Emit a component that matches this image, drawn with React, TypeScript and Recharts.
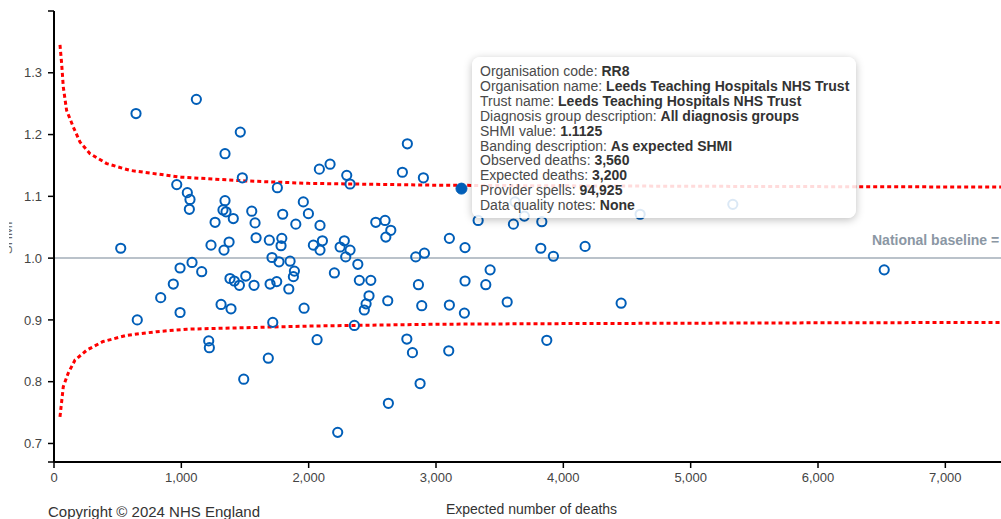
import { ScatterChart, Scatter, XAxis, YAxis, ReferenceLine } from 'recharts';

// expected deaths vs SHMI, one entry per trust
const expectedDeaths = [
    644, 1118, 1463, 1343, 1479, 964, 1047, 1068, 1063, 1343,
    1327, 1351, 1408, 1265, 1553, 1579, 1796, 1899, 1958, 1998,
    2089, 1754, 2084, 2168, 2299, 2325, 1233, 1375, 1335, 1587,
    1691, 1789, 1783, 2037, 2108, 2089, 2247, 2280, 2325, 2291,
    524, 990, 1084, 1160, 1712, 1767, 1854, 1888, 1880, 2202,
    1506, 1382, 1416, 1456, 1571, 937, 838, 654, 990, 1697,
    1749, 1844, 1312, 1390, 1964, 1718, 1215, 1220, 2066, 1683,
    1490, 2228, 2775, 2736, 2901, 2527, 2600, 2645, 2606, 2386,
    2398, 2488, 2474, 2451, 2437, 2621, 2888, 3105, 3223, 2359,
    2862, 3228, 3391, 3425, 3559, 2841, 2909, 3105, 3228, 3331,
    3621, 3694, 3608, 3831, 3823, 3922, 4171, 2771, 2815, 3100,
    3870, 2875, 2626, 4454, 6520, 4603, 5331,
];

const shmiValues = [
    1.234, 1.257, 1.204, 1.169, 1.130, 1.119, 1.106, 1.095, 1.079, 1.093,
    1.078, 1.075, 1.064, 1.058, 1.076, 1.057, 1.071, 1.055, 1.091, 1.072,
    1.053, 1.114, 1.144, 1.152, 1.134, 1.120, 1.021, 1.026, 1.013, 1.033,
    1.029, 1.032, 1.020, 1.021, 1.028, 1.013, 1.018, 1.028, 1.013, 1.002,
    1.016, 0.984, 0.993, 0.978, 1.001, 0.994, 0.995, 0.979, 0.970, 0.976,
    0.971, 0.967, 0.963, 0.956, 0.956, 0.958, 0.936, 0.900, 0.912, 0.958,
    0.962, 0.950, 0.925, 0.918, 0.919, 0.896, 0.866, 0.855, 0.868, 0.838,
    0.804, 0.718, 1.185, 1.139, 1.130, 1.058, 1.061, 1.045, 1.034, 0.990,
    0.964, 0.964, 0.939, 0.926, 0.916, 0.931, 0.923, 0.924, 0.911, 0.891,
    0.957, 0.963, 0.957, 0.981, 0.929, 1.002, 1.008, 1.032, 1.017, 1.061,
    1.091, 1.068, 1.055, 1.059, 1.016, 1.003, 1.019, 0.869, 0.847, 0.850,
    0.867, 0.797, 0.765, 0.927, 0.981, 1.071, 1.087,
];

// control limits
const upperExpected = [47, 60, 73, 99, 152, 204, 283, 414, 597, 1000, 1500, 2000, 3000, 4000, 5500, 7500];
const upperShmi = [1.345, 1.315, 1.277, 1.239, 1.212, 1.188, 1.169, 1.153, 1.142, 1.131, 1.125, 1.121, 1.118, 1.117, 1.116, 1.115];
const lowerExpected = [47, 73, 112, 165, 257, 385, 571, 807, 1042, 2000, 3000, 4000, 5500, 7500];
const lowerShmi = [0.743, 0.792, 0.814, 0.835, 0.851, 0.865, 0.875, 0.881, 0.885, 0.890, 0.893, 0.894, 0.895, 0.896];

const selectedExpected = 3200;
const selectedShmi = 1.1125;

const xTicks = [0, 1000, 2000, 3000, 4000, 5000, 6000, 7000];
const yTicks = [0.67, 0.7, 0.8, 0.9, 1.0, 1.1, 1.2, 1.3, 1.4];

const tooltipRows = [
    ['Organisation code', 'RR8'],
    ['Organisation name', 'Leeds Teaching Hospitals NHS Trust'],
    ['Trust name', 'Leeds Teaching Hospitals NHS Trust'],
    ['Diagnosis group description', 'All diagnosis groups'],
    ['SHMI value', '1.1125'],
    ['Banding description', 'As expected SHMI'],
    ['Observed deaths', '3,560'],
    ['Expected deaths', '3,200'],
    ['Provider spells', '94,925'],
    ['Data quality notes', 'None'],
];

const FONT = '"Liberation Sans", Arial, sans-serif';
const BLUE = '#005EB8';

const trusts = expectedDeaths.map((x, i) => ({ x, y: shmiValues[i] }));
const upper = upperExpected.map((x, i) => ({ x, y: upperShmi[i] }));
const lower = lowerExpected.map((x, i) => ({ x, y: lowerShmi[i] }));
const selected = [{ x: selectedExpected, y: selectedShmi }];

const limitLine = { stroke: '#ff0000', strokeWidth: 3, strokeDasharray: '4 3' };

export default function App() {
    return (
        <div style={{ position: 'fixed', left: 0, top: 0, width: 1001, height: 519, overflow: 'hidden', background: '#fff', fontFamily: FONT }}>
            <ScatterChart
                width={1040}
                height={519}
                margin={{ top: 11, right: 31, bottom: 0, left: 0 }}
                style={{ fontFamily: FONT }}
            >
                <XAxis
                    type="number"
                    dataKey="x"
                    domain={[0, 7500]}
                    ticks={xTicks}
                    allowDataOverflow
                    height={57}
                    tickSize={6}
                    tickMargin={5}
                    axisLine={{ stroke: '#000', strokeWidth: 2 }}
                    tickLine={{ stroke: '#000', strokeWidth: 1.5 }}
                    tick={{ fill: '#444', fontSize: 13 }}
                    tickFormatter={(v) => v.toLocaleString('en-GB')}
                    label={{ value: 'Expected number of deaths', position: 'insideBottom', offset: 5, fill: '#333', fontSize: 14 }}
                />
                <YAxis
                    type="number"
                    dataKey="y"
                    domain={[0.67, 1.4]}
                    ticks={yTicks}
                    allowDataOverflow
                    width={54}
                    tickSize={6}
                    tickMargin={6}
                    axisLine={{ stroke: '#000', strokeWidth: 2 }}
                    tickLine={{ stroke: '#000', strokeWidth: 1.5 }}
                    tick={{ fill: '#444', fontSize: 13 }}
                    tickFormatter={(v) => (v === 0.67 || v === 1.4 ? '' : v.toFixed(1))}
                />

                <ReferenceLine
                    y={1}
                    stroke="#a3aeb9"
                    strokeWidth={1.5}
                    label={(props: any) => {
                        const vb = props.viewBox;
                        return (
                            <text x={vb.x + vb.width - 137} y={vb.y - 13} textAnchor="start" fill="#8b97a4" fontSize={14} fontWeight="bold">
                                National baseline = 1
                            </text>
                        );
                    }}
                />

                {/* funnel limits: line only */}
                <Scatter data={upper} line={limitLine} shape={() => <g />} isAnimationActive={false} />
                <Scatter data={lower} line={limitLine} shape={() => <g />} isAnimationActive={false} />

                <Scatter
                    data={trusts}
                    isAnimationActive={false}
                    shape={(p: any) => <circle cx={p.cx} cy={p.cy} r={4.6} fill="none" stroke={BLUE} strokeWidth={2} />}
                />
                <Scatter
                    data={selected}
                    isAnimationActive={false}
                    shape={(p: any) => <circle cx={p.cx} cy={p.cy} r={5.5} fill={BLUE} stroke={BLUE} strokeWidth={1} />}
                />
            </ScatterChart>

            {/* y axis title, mostly cut off at the left edge */}
            <div style={{ position: 'absolute', left: 9, top: 220, width: 4, height: 34, overflow: 'hidden' }}>
                <span style={{ position: 'absolute', left: -19, top: 9, width: 35, height: 15, lineHeight: '15px', fontSize: 13, color: '#666', transform: 'rotate(-90deg)', whiteSpace: 'nowrap' }}>
                    SHMI
                </span>
            </div>

            <div style={{ position: 'absolute', left: 48, top: 503, fontSize: 15, color: '#333', whiteSpace: 'nowrap' }}>
                Copyright © 2024 NHS England
            </div>

            {/* hovered trust */}
            <div
                style={{
                    position: 'absolute', left: 472, top: 57, width: 384, height: 161,
                    boxSizing: 'border-box', padding: '7px 8px',
                    background: 'rgba(255,255,255,0.86)', borderRadius: 8,
                    boxShadow: '0 2px 8px rgba(0,0,0,0.25)',
                    fontSize: 14, lineHeight: '14.9px', color: '#4a4a4a',
                }}
            >
                {tooltipRows.map(([label, value]) => (
                    <div key={label} style={{ whiteSpace: 'nowrap' }}>
                        {label}: <b style={{ color: '#333' }}>{value}</b>
                    </div>
                ))}
            </div>
        </div>
    );
}
